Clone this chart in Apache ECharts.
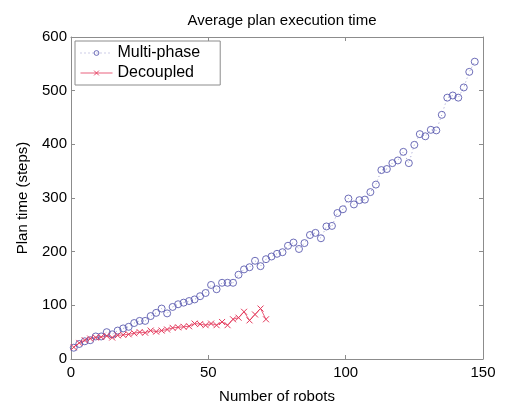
<!DOCTYPE html>
<html>
<head>
<meta charset="utf-8">
<script src="https://cdn.jsdelivr.net/npm/echarts@6/dist/echarts.min.js"></script>
<style>html,body{margin:0;padding:0;background:#fff}#c{width:505px;height:409px}</style>
</head>
<body>
<div id="c"></div>
<script>
const multiX = [1,3,5,7,9,11,13,15,17,19,21,23,25,27,29,31,33,35,37,39,41,43,45,47,49,51,53,55,57,59,61,63,65,67,69,71,73,75,77,79,81,83,85,87,89,91,93,95,97,99,101,103,105,107,109,111,113,115,117,119,121,123,125,127,129,131,133,135,137,139,141,143,145,147];
const multiY = [21,28,33,35,42,42,50,46,53,57,60,67,71,71,80,86,94,85,97,102,105,108,111,117,123,138,130,142,142,142,157,167,171,183,173,186,191,196,199,211,217,205,216,231,235,225,247,248,272,279,299,288,296,297,311,325,352,354,365,370,386,365,399,419,415,427,426,455,487,491,487,506,535,554];
const decX = [1,3,5,7,9,11,13,15,17,19,21,23,25,27,29,31,33,35,37,39,41,43,45,47,49,51,53,55,57,59,61,63,65,67,69,71];
const decY = [22,30,35,38,40,41,43,40,44,45,46,48,50,49,53,51,53,55,58,59,60,61,66,65,63,66,63,69,63,74,77,88,72,83,94,74];
const xTicks = [0,50,100,150];
const yTicks = [0,100,200,300,400,500,600];

const FONT = 'Liberation Sans';
const axisCol = '#8c8c8c';
const blue = '#5c5cb0';
const red = '#e43a5c';
const crossPath = 'path://M0,0L10,10M10,0L0,10';

const chart = echarts.init(document.getElementById('c'), null, {renderer:'canvas'});
const common = {
  axisLine:{show:true, onZero:false, lineStyle:{color:axisCol, width:1}},
  axisTick:{show:true, inside:true, length:4, lineStyle:{color:axisCol}},
  splitLine:{show:false}
};
chart.setOption({
  animation:false,
  backgroundColor:'#fff',
  title:{text:'Average plan execution time', left:277, textAlign:'center', top:8,
    textStyle:{fontFamily:FONT, fontSize:15, fontWeight:'normal', color:'#000'}},
  grid:{left:71, right:22, top:37, bottom:48, show:false},
  legend:{
    left:75, top:41, orient:'vertical', itemGap:4, itemWidth:32, itemHeight:6,
    padding:[4,20,4,5], borderColor:'#8c8c8c', borderWidth:1, backgroundColor:'#fff',
    textStyle:{fontFamily:FONT, fontSize:16, color:'#000'},
    lineStyle:{width:1},
    itemStyle:{borderWidth:0.9},
    data:['Multi-phase','Decoupled']
  },
  xAxis:[
    Object.assign({type:'value', min:0, max:150, interval:50, position:'bottom',
      name:'Number of robots', nameLocation:'middle', nameGap:30,
      nameTextStyle:{fontFamily:FONT, fontSize:15, color:'#000'},
      axisLabel:{fontFamily:FONT, fontSize:15, color:'#000', margin:6,
        formatter:v=>xTicks.includes(v)?String(v):''}}, common),
    Object.assign({type:'value', min:0, max:150, interval:50, position:'top',
      axisLabel:{show:false}}, common)
  ],
  yAxis:[
    Object.assign({type:'value', min:0, max:600, interval:100, position:'left',
      name:'Plan time (steps)', nameLocation:'middle', nameGap:41,
      nameTextStyle:{fontFamily:FONT, fontSize:15, color:'#000'},
      axisLabel:{fontFamily:FONT, fontSize:15, color:'#000', margin:4,
        formatter:v=>yTicks.includes(v)?String(v):''}}, common),
    Object.assign({type:'value', min:0, max:600, interval:100, position:'right',
      axisLabel:{show:false}}, common)
  ],
  series:[
    {name:'Multi-phase', type:'line', xAxisIndex:0, yAxisIndex:0,
      data:multiX.map((x,i)=>[x,multiY[i]]),
      symbol:'circle', symbolSize:7, showAllSymbol:true,
      lineStyle:{color:blue, width:1, type:[1,3], opacity:0.6},
      itemStyle:{color:'rgba(255,255,255,0)', borderColor:blue, borderWidth:0.9}},
    {name:'Decoupled', type:'line', xAxisIndex:0, yAxisIndex:0,
      data:decX.map((x,i)=>[x,decY[i]]),
      symbol:crossPath, symbolSize:6, showAllSymbol:true,
      lineStyle:{color:red, width:1, opacity:0.8},
      itemStyle:{color:'rgba(0,0,0,0)', borderColor:red, borderWidth:1}}
  ]
});
</script>
</body>
</html>
